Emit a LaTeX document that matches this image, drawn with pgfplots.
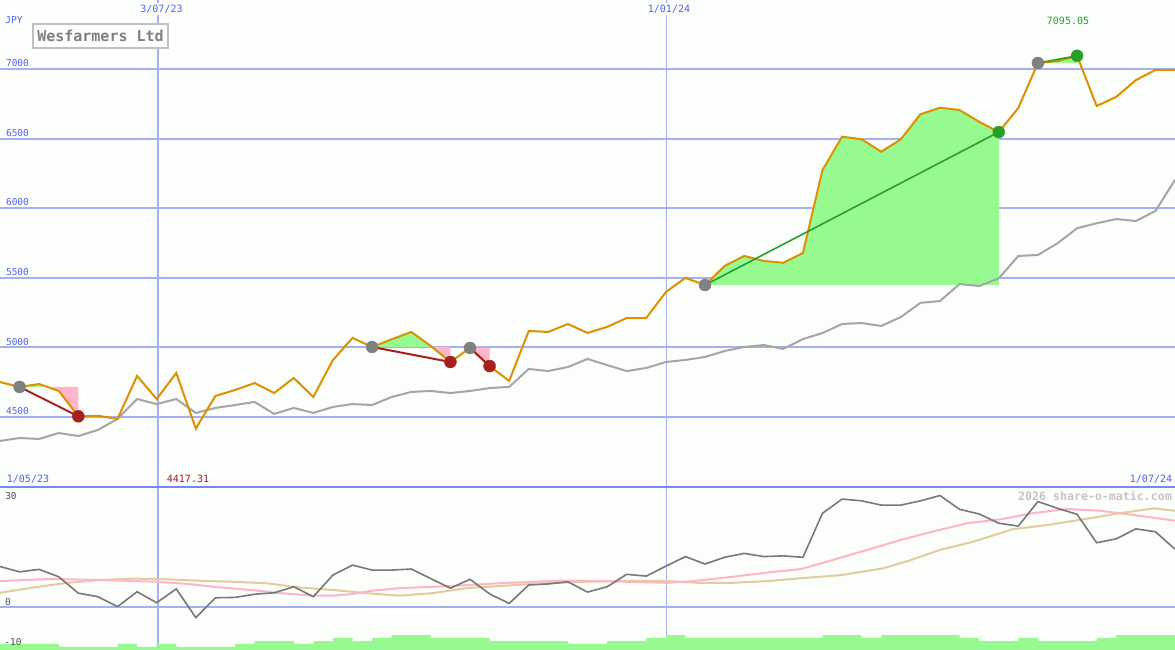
\documentclass[border=0pt]{standalone}
\usepackage{fontspec}
\setmainfont{DejaVu Sans Mono}
\usepackage{pgfplots}
\pgfplotsset{compat=1.18}
\usepackage{pgfplotstable}
\definecolor{bg}{RGB}{252,254,252}
\definecolor{gridc}{RGB}{164,176,242}
\definecolor{borderc}{RGB}{120,136,238}
\definecolor{lbl}{RGB}{80,96,240}
\definecolor{pricec}{RGB}{221,144,0}
\definecolor{mac}{RGB}{165,165,165}
\definecolor{fillg}{RGB}{150,250,145}
\definecolor{fillp}{RGB}{255,182,200}
\definecolor{mkgrey}{RGB}{128,128,128}
\definecolor{mkred}{RGB}{165,32,32}
\definecolor{mkgreen}{RGB}{40,160,40}
\definecolor{oscc}{RGB}{120,120,120}
\definecolor{pinkl}{RGB}{255,180,200}
\definecolor{tanl}{RGB}{225,205,155}
\definecolor{volc}{RGB}{150,250,145}
\definecolor{txtgrey}{RGB}{128,128,128}
\definecolor{boxgrey}{RGB}{192,192,192}
\definecolor{wmgrey}{RGB}{196,196,196}
\definecolor{lowlbl}{RGB}{80,80,80}

\pgfplotstableread{
i p m
0 4751 4328
1 4716 4349
2 4737 4342
3 4687 4385
4 4505 4363
5 4509 4407
6 4486 4486
7 4795 4629
8 4629 4593
9 4816 4629
10 4417 4529
11 4651 4565
12 4694 4586
13 4744 4608
14 4672 4522
15 4780 4565
16 4644 4529
17 4909 4572
18 5068 4593
19 5003 4586
20 5058 4644
21 5111 4680
22 5010 4687
23 4895 4672
24 4996 4687
25 4866 4708
26 4759 4716
27 5118 4845
28 5111 4830
29 5168 4859
30 5104 4917
31 5147 4873
32 5211 4830
33 5211 4852
34 5398 4895
35 5499 4910
36 5448 4931
37 5585 4974
38 5657 5003
39 5621 5017
40 5608 4989
41 5678 5060
42 6274 5103
43 6514 5168
44 6495 5175
45 6406 5154
46 6495 5218
47 6675 5320
48 6722 5333
49 6705 5455
50 6621 5441
51 6547 5496
52 6720 5657
53 7043 5664
54 7057 5748
55 7095 5856
56 6734 5892
57 6800 5922
58 6920 5908
59 6993 5980
60 6993 6203
}\pricetab

\pgfplotstableread{
i o
0 11.4
1 9.9
2 10.6
3 8.5
4 3.9
5 2.9
6 0.1
7 4.3
8 1.2
9 5.1
10 -3.0
11 2.6
12 2.7
13 3.6
14 4.0
15 5.7
16 2.9
17 9.0
18 11.8
19 10.4
20 10.4
21 10.7
22 8.0
23 5.3
24 7.8
25 3.7
26 1.0
27 6.2
28 6.5
29 7.1
30 4.2
31 5.7
32 9.2
33 8.7
34 11.5
35 14.2
36 12.1
37 14.0
38 15.1
39 14.2
40 14.4
41 14.0
42 26.4
43 30.4
44 29.9
45 28.7
46 28.7
47 29.9
48 31.4
49 27.5
50 26.2
51 23.6
52 22.8
53 29.7
54 27.8
55 26.1
56 18.1
57 19.2
58 22.0
59 21.2
60 16.3
}\osctab

\pgfplotstableread{
i v
0 -10.4
1 -10.4
2 -10.4
3 -11.2
4 -11.2
5 -11.2
6 -10.4
7 -11.2
8 -10.4
9 -11.2
10 -11.2
11 -11.2
12 -10.4
13 -9.6
14 -9.6
15 -10.4
16 -9.6
17 -8.7
18 -9.6
19 -8.7
20 -7.9
21 -7.9
22 -8.7
23 -8.7
24 -8.7
25 -9.6
26 -9.6
27 -9.6
28 -9.6
29 -10.4
30 -10.4
31 -9.6
32 -9.6
33 -8.7
34 -7.9
35 -8.7
36 -8.7
37 -8.7
38 -8.7
39 -8.7
40 -8.7
41 -8.7
42 -7.9
43 -7.9
44 -8.7
45 -7.9
46 -7.9
47 -7.9
48 -7.9
49 -8.7
50 -9.6
51 -9.6
52 -8.7
53 -9.6
54 -9.6
55 -9.6
56 -8.7
57 -7.9
58 -7.9
59 -7.9
60 -7.9
}\voltab

\begin{document}
\begin{tikzpicture}[x=1pt,y=1pt]
\fill[bg] (0,0) rectangle (1175,650);
\useasboundingbox (0,0) rectangle (1175,650);

% ---------------- main price panel ----------------
\begin{axis}[
  at={(0pt,163pt)}, anchor=south west, scale only axis,
  width=1175pt, height=487pt,
  xmin=0, xmax=60, ymin=3997, ymax=7496,
  axis line style={draw=none},
  xtick={8.07}, xticklabels={},
  extra x ticks={34.01}, extra x tick labels={},
  extra x tick style={major grid style={gridc, line width=1pt}},
  ytick={4500,5000,...,7000}, yticklabels={},
  major tick length=0pt,
  xmajorgrids, ymajorgrids,
  major grid style={gridc, line width=2pt},
  clip=true,
]
% shaded areas
\addplot[fill=fillg, draw=none] coordinates {(1,4716) (2,4737) (2.42,4716)} -- cycle;
\addplot[fill=fillp, draw=none] coordinates {(2.42,4716) (3,4687) (4,4505) (4,4716)} -- cycle;
\addplot[fill=fillg, draw=none] coordinates {(19,5003) (20,5058) (21,5111) (22,5010) (22.06,5003)} -- cycle;
\addplot[fill=fillp, draw=none] coordinates {(22.06,5003) (23,4895) (23,5003)} -- cycle;
\addplot[fill=fillp, draw=none] coordinates {(24,4996) (25,4866) (25,4996)} -- cycle;
\addplot[fill=fillg, draw=none] coordinates {(36,5448) (37,5585) (38,5657) (39,5621) (40,5608) (41,5678) (42,6274) (43,6514) (44,6495) (45,6406) (46,6495) (47,6675) (48,6722) (49,6705) (50,6621) (51,6547) (51,5448)} -- cycle;
\addplot[fill=fillg, draw=none] coordinates {(53,7043) (54,7057) (55,7095) (55,7043)} -- cycle;
% moving average and price
\addplot[mac, line width=2pt] table[x=i, y=m] {\pricetab};
\addplot[pricec, line width=2pt] table[x=i, y=p] {\pricetab};
% trade lines
\addplot[mkred, line width=2pt] coordinates {(1,4716) (4,4505)};
\addplot[mkred, line width=2pt] coordinates {(19,5003) (23,4895)};
\addplot[mkred, line width=2pt] coordinates {(24,4996) (25,4866)};
\addplot[mkgreen, line width=1.6pt] coordinates {(36,5448) (51,6547)};
\addplot[mkgreen, line width=1.6pt] coordinates {(53,7043) (55,7095)};
% markers
\addplot[only marks, mark=*, mark size=6pt, mark options={fill=mkgrey, draw=mkgrey}] coordinates {(1,4716) (19,5003) (24,4996) (36,5448) (53,7043)};
\addplot[only marks, mark=*, mark size=6pt, mark options={fill=mkred, draw=mkred}] coordinates {(4,4505) (23,4895) (25,4866)};
\addplot[only marks, mark=*, mark size=6pt, mark options={fill=mkgreen, draw=mkgreen}] coordinates {(51,6547) (55,7095)};
\end{axis}

% ---------------- lower indicator panel ----------------
\begin{axis}[
  at={(0pt,0pt)}, anchor=south west, scale only axis,
  width=1175pt, height=163pt,
  xmin=0, xmax=60, ymin=-12.11, ymax=33.8,
  axis line style={draw=none},
  xtick={8.07}, xticklabels={},
  extra x ticks={34.01}, extra x tick labels={},
  extra x tick style={major grid style={gridc, line width=1pt}},
  ytick={0}, yticklabels={},
  major tick length=0pt,
  xmajorgrids, ymajorgrids,
  major grid style={gridc, line width=2pt},
  clip=true,
]
\addplot[const plot, fill=volc, draw=none] table[x=i, y=v] {\voltab} -- (axis cs:60,-13) -- (axis cs:0,-13) -- cycle;
\addplot[tanl, line width=2pt] coordinates {(0,4.0) (1.7,5.5) (3.4,6.8) (5.1,7.6) (6.8,8.0) (8.5,7.8) (10.2,7.4) (11.9,7.1) (13.6,6.7) (15.3,5.5) (17.0,4.8) (18.7,3.9) (20.4,3.2) (22.1,3.9) (23.8,5.3) (25.5,5.9) (27.2,6.5) (29.8,7.1) (32.3,7.4) (34.1,7.3) (35.7,6.8) (37.4,6.8) (39.2,7.3) (40.9,8.1) (43.0,9.0) (45.1,10.9) (46.5,13.2) (48.0,16.1) (49.7,18.4) (51.7,21.9) (53.5,23.1) (55.1,24.5) (57.2,26.4) (58.9,27.8) (60,27.1)};
\addplot[pinkl, line width=2pt] coordinates {(0,7.3) (2.55,7.9) (5.1,7.6) (8.0,7.1) (9.55,6.5) (11.1,5.6) (12.8,4.8) (14.3,3.9) (16.0,3.2) (17.0,3.2) (17.9,3.6) (19.0,4.6) (20.4,5.3) (23.0,5.9) (25.5,6.7) (28.6,7.4) (30.6,7.3) (34.1,6.8) (35.4,7.3) (37.4,8.5) (39.2,9.7) (40.9,10.7) (42.5,13.2) (44.3,16.1) (46.0,18.9) (47.6,21.2) (49.4,23.6) (51.1,24.7) (52.7,26.4) (54.5,27.6) (56.2,27.1) (57.9,25.9) (60,24.3)};
\addplot[oscc, line width=1.6pt] table[x=i, y=o] {\osctab};
\end{axis}

% separator
\draw[borderc, line width=2pt] (0,163) -- (1175,163);

% ---------------- texts ----------------
\begin{scope}[every node/.style={inner sep=0pt}]
\node[text=lbl, font=\fontsize{9.5}{11}\selectfont] at (14,630) {JPY};
\node[text=lbl, font=\fontsize{9.5}{11}\selectfont] at (17.5,587) {7000};
\node[text=lbl, font=\fontsize{9.5}{11}\selectfont] at (17.5,517) {6500};
\node[text=lbl, font=\fontsize{9.5}{11}\selectfont] at (17.5,448) {6000};
\node[text=lbl, font=\fontsize{9.5}{11}\selectfont] at (17.5,378) {5500};
\node[text=lbl, font=\fontsize{9.5}{11}\selectfont] at (17.5,308) {5000};
\node[text=lbl, font=\fontsize{9.5}{11}\selectfont] at (17.5,239) {4500};
\node[text=lbl, fill=bg, inner sep=2pt, font=\fontsize{10}{12}\selectfont] at (161.5,641) {3/07/23};
\node[text=lbl, fill=bg, inner sep=2pt, font=\fontsize{10}{12}\selectfont] at (669,641) {1/01/24};
\node[text=lbl, font=\fontsize{10}{12}\selectfont] at (28,171) {1/05/23};
\node[text=mkred, font=\fontsize{10}{12}\selectfont] at (188,171) {4417.31};
\node[text=lbl, font=\fontsize{10}{12}\selectfont] at (1151,171) {1/07/24};
\node[text=mkgreen, font=\fontsize{10}{12}\selectfont] at (1068,629) {7095.05};
\node[draw=boxgrey, line width=2pt, fill=bg, minimum width=135pt, minimum height=24pt, text=txtgrey, font=\fontsize{15}{17}\selectfont\bfseries] at (100.5,614) {Wesfarmers Ltd};
\node[text=wmgrey, font=\fontsize{11.6}{13}\selectfont\bfseries] at (1095,154) {2026 share-o-matic.com};
\node[text=lowlbl, font=\fontsize{9.5}{11}\selectfont] at (11,154) {30};
\node[text=lowlbl, font=\fontsize{9.5}{11}\selectfont] at (8,48) {0};
\node[text=lowlbl, font=\fontsize{9.5}{11}\selectfont] at (13,8) {-10};
\end{scope}
\end{tikzpicture}
\end{document}
